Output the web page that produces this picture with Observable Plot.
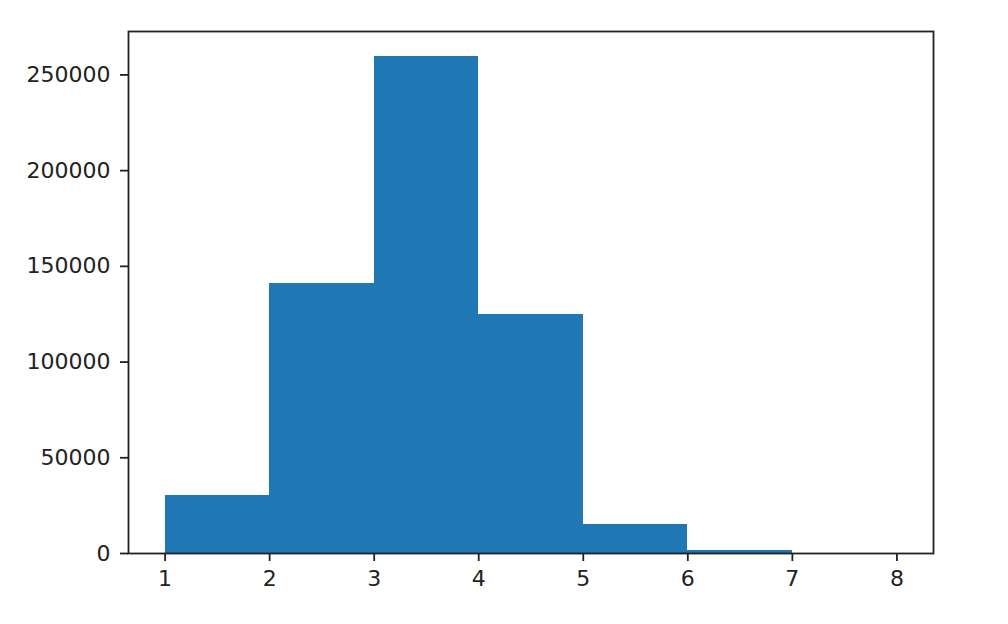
<!DOCTYPE html>
<html>
<head>
<meta charset="utf-8">
<script src="https://cdn.jsdelivr.net/npm/d3@7"></script>
<script src="https://cdn.jsdelivr.net/npm/@observablehq/plot@0.6"></script>
<style>
  html, body { margin: 0; padding: 0; background: #fff; }
</style>
</head>
<body>
<div id="chart"></div>
<script>
const binStarts = [1, 2, 3, 4, 5, 6, 7];
const binEnds   = [2, 3, 4, 5, 6, 7, 8];
const counts    = [30300, 140800, 259700, 124600, 15400, 1400, 150];
const xTicks = [1, 2, 3, 4, 5, 6, 7, 8];
const yTicks = [0, 50000, 100000, 150000, 200000, 250000];

const data = binStarts.map((s, i) => ({x1: s, x2: binEnds[i], y: counts[i]}));
const xmin = 1 - 0.05 * 7, xmax = 8 + 0.05 * 7;
const ymax = d3.max(counts) * 1.05;

const chart = Plot.plot({
  width: 1008,
  height: 624,
  marginLeft: 128,
  marginRight: 75,
  marginTop: 31,
  marginBottom: 71,
  style: {fontFamily: "DejaVu Sans", fontSize: "22px", color: "#222", background: "#fff"},
  x: {domain: [xmin, xmax]},
  y: {domain: [0, ymax]},
  marks: [
    Plot.rectY(data, {x1: "x1", x2: "x2", y: "y", fill: "#1f77b4", inset: 0, shapeRendering: "crispEdges"}),
    Plot.axisX({ticks: xTicks, tickSize: 8, tickPadding: 9, tickFormat: d => String(d), strokeWidth: 1.8, label: null}),
    Plot.axisY({ticks: yTicks, tickSize: 8, tickPadding: 10, tickFormat: d => String(d), strokeWidth: 1.8, label: null}),
    Plot.frame({stroke: "#222", strokeWidth: 1.8})
  ]
});
document.getElementById("chart").appendChild(chart);
</script>
</body>
</html>
